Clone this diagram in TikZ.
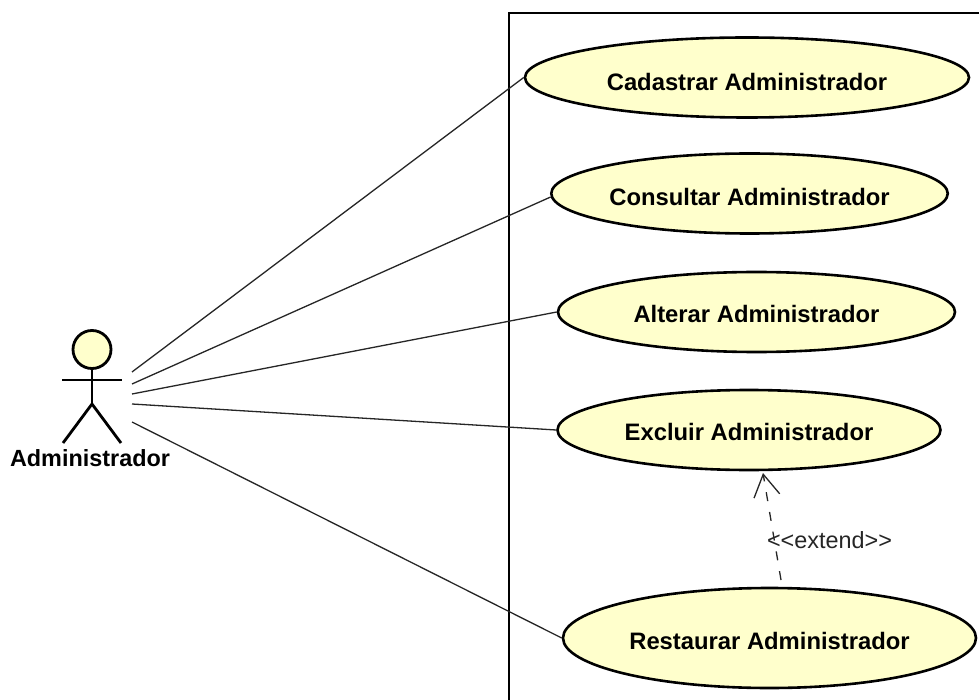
\documentclass[tikz,border=0pt]{standalone}
\usepackage{fontspec}
\setmainfont{Liberation Sans}
\usetikzlibrary{shapes.geometric,arrows.meta}
\definecolor{ucfill}{RGB}{255,255,204}
\tikzset{
 x=1pt,y=-1pt,
 uc/.style={draw=black,line width=2.6pt,fill=ucfill,ellipse,inner sep=0pt,text depth=0pt,font=\bfseries\fontsize{23.8}{26}\selectfont,text=black},
 assoc/.style={draw=black!85,line width=1.3pt},
 actorline/.style={draw=black,line width=2.8pt},
}
\begin{document}
\begin{tikzpicture}
\useasboundingbox (0,0) rectangle (979,700);
\fill[white] (0,0) rectangle (979,700);
\coordinate (bTL) at (509,13);
\coordinate (bTR) at (979,13);
\coordinate (bBL) at (509,700);
\draw[black,line width=1.4pt] (bBL) -- (bTL) -- (bTR);
\node[uc,text height=27pt,minimum width=444pt,minimum height=80pt] (u1) at (747,77.5) {Cadastrar Administrador};
\node[uc,text height=25pt,minimum width=395pt,minimum height=80pt] (u2) at (749.5,193.5) {Consultar Administrador};
\node[uc,text height=21pt,minimum width=397pt,minimum height=80pt] (u3) at (756.5,312) {Alterar Administrador};
\node[uc,text height=21pt,minimum width=383pt,minimum height=80pt] (u4) at (749,430) {Excluir Administrador};
\node[uc,text height=23pt,minimum width=413pt,minimum height=100pt] (u5) at (769.5,638) {Restaurar Administrador};
\node[draw=black,line width=2.8pt,fill=ucfill,circle,minimum size=38pt,inner sep=0pt] (head) at (92,349.5) {};
\coordinate (hip) at (92,404);
\coordinate (al) at (62,380);
\coordinate (ar) at (122,380);
\coordinate (fl) at (63,443);
\coordinate (fr) at (121,443);
\draw[actorline] (head.south) -- (hip);
\draw[actorline] (al) -- (ar);
\draw[actorline] (fl) -- (hip) -- (fr);
\node[font=\bfseries\fontsize{23.4}{26}\selectfont,text height=17pt,text depth=0pt,inner sep=0pt,anchor=base] (actor) at (90,466) {Administrador};
\coordinate (a1) at (132,372);
\coordinate (a2) at (132,384);
\coordinate (a3) at (132,394);
\coordinate (a4) at (132,404);
\coordinate (a5) at (132,422);
\draw[assoc] (a1) -- (u1.west);
\draw[assoc] (a2) -- (u2.181);
\draw[assoc] (a3) -- (u3.west);
\draw[assoc] (a4) -- (u4.west);
\draw[assoc] (a5) -- (u5.west);
\coordinate (e1) at (781,580);
\coordinate (e2) at (763,473);
\draw[assoc,dash pattern=on 9pt off 11pt,-{Straight Barb[length=22pt,width=26pt,line width=1.3pt]}] (e1) -- (e2);
\node[font=\fontsize{23.4}{26}\selectfont,text=black!85,inner sep=0pt] (lbl) at (829.5,540) {<{}<extend>{}>};
\end{tikzpicture}
\end{document}
